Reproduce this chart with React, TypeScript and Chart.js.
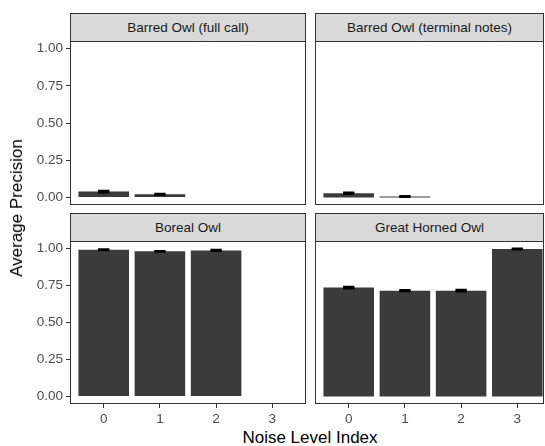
import React, { useEffect, useRef } from "react";
import { Chart, registerables } from "chart.js";

Chart.register(...registerables);

const levels = [0, 1, 2, 3];
const yTicks = [0, 0.25, 0.5, 0.75, 1];
const panelTitles = [
  "Barred Owl (full call)",
  "Barred Owl (terminal notes)",
  "Boreal Owl",
  "Great Horned Owl",
];
const fullCallAP: (number | null)[] = [0.04, 0.022, null, null];
const fullCallErr: (number | null)[] = [0.006, 0.004, null, null];
const terminalAP: (number | null)[] = [0.029, 0.007, null, null];
const terminalErr: (number | null)[] = [0.005, 0.004, null, null];
const borealAP: (number | null)[] = [0.993, 0.982, 0.988, null];
const borealErr: (number | null)[] = [0.004, 0.003, 0.004, null];
const ghoAP: (number | null)[] = [0.737, 0.716, 0.716, 0.998];
const ghoErr: (number | null)[] = [0.006, 0.004, 0.006, 0.003];

const FONT = "'Liberation Sans', Arial, Helvetica, sans-serif";
const BAR = "#3b3b3b";
const LINE = "#333333";
const TICK_SIZE = 13.5;

type PanelProps = {
  values: (number | null)[];
  errs: (number | null)[];
  showX: boolean;
  showY: boolean;
  xMax: number;
  left: number;
  top: number;
  width: number;
  height: number;
};

const borderPlugin = {
  id: "panelBorder",
  afterDraw(chart: any) {
    const { ctx, chartArea } = chart;
    ctx.save();
    ctx.strokeStyle = LINE;
    ctx.lineWidth = 1;
    ctx.strokeRect(
      chartArea.left + 0.5,
      chartArea.top + 0.5,
      chartArea.right - chartArea.left - 1,
      chartArea.bottom - chartArea.top - 1
    );
    ctx.restore();
  },
};

function makeErrPlugin(values: (number | null)[], errs: (number | null)[]) {
  return {
    id: "errBars",
    afterDatasetsDraw(chart: any) {
      const { ctx } = chart;
      const xs = chart.scales.x;
      const ys = chart.scales.y;
      const unit = xs.getPixelForValue(1) - xs.getPixelForValue(0);
      ctx.save();
      ctx.strokeStyle = "#000";
      ctx.fillStyle = "#000";
      ctx.lineWidth = 2;
      levels.forEach((lv, i) => {
        const v = values[i];
        const e = errs[i];
        if (v == null || e == null) return;
        const cx = xs.getPixelForValue(lv);
        const hw = unit * 0.1;
        const yHi = ys.getPixelForValue(v + e);
        const yLo = ys.getPixelForValue(v - e);
        ctx.beginPath();
        ctx.moveTo(cx - hw, yHi);
        ctx.lineTo(cx + hw, yHi);
        ctx.moveTo(cx - hw, yLo);
        ctx.lineTo(cx + hw, yLo);
        ctx.moveTo(cx, yHi);
        ctx.lineTo(cx, yLo);
        ctx.stroke();
        ctx.fillRect(cx - hw, yHi, hw * 2, yLo - yHi);
      });
      ctx.restore();
    },
  };
}

function Panel(p: PanelProps) {
  const ref = useRef<HTMLCanvasElement>(null);
  useEffect(() => {
    if (!ref.current) return;
    const data = levels
      .map((lv, i) => ({ x: lv, y: p.values[i] }))
      .filter((d) => d.y != null);
    const chart = new Chart(ref.current, {
      type: "bar",
      data: {
        datasets: [
          {
            data: data as any,
            backgroundColor: BAR,
            borderWidth: 0,
            barPercentage: 0.9,
            categoryPercentage: 1,
          },
        ],
      },
      options: {
        animation: false,
        responsive: false,
        maintainAspectRatio: false,
        layout: { padding: 0 },
        plugins: {
          legend: { display: false },
          tooltip: { enabled: false },
        },
        scales: {
          x: {
            type: "linear",
            min: -0.6,
            max: p.xMax,
            offset: false,
            display: p.showX,
            afterBuildTicks: (s: any) => {
              s.ticks = levels.map((v) => ({ value: v }));
            },
            afterFit: (s: any) => {
              if (p.showX) s.height = 22;
              s.paddingLeft = 0;
              s.paddingRight = 0;
            },
            ticks: {
              color: "#4d4d4d",
              font: { size: TICK_SIZE, family: FONT },
              padding: 3,
              autoSkip: false,
              maxRotation: 0,
              callback: (v: any) => String(v),
            },
            grid: {
              display: true,
              offset: false,
              drawOnChartArea: false,
              drawTicks: true,
              tickLength: 4,
              tickColor: LINE,
              tickWidth: 1,
            },
            border: { display: false },
          },
          y: {
            type: "linear",
            min: -0.05,
            max: 1.052,
            display: p.showY,
            afterBuildTicks: (s: any) => {
              s.ticks = yTicks.map((v) => ({ value: v }));
            },
            afterFit: (s: any) => {
              if (p.showY) s.width = 70;
              s.paddingTop = 0;
              s.paddingBottom = 0;
            },
            ticks: {
              color: "#4d4d4d",
              font: { size: TICK_SIZE, family: FONT },
              padding: 3,
              callback: (v: any) => Number(v).toFixed(2),
            },
            grid: {
              display: true,
              drawOnChartArea: false,
              drawTicks: true,
              tickLength: 4,
              tickColor: LINE,
              tickWidth: 1,
            },
            border: { display: false },
          },
        },
      },
      plugins: [borderPlugin, makeErrPlugin(p.values, p.errs)],
    });
    return () => chart.destroy();
  }, []);
  return (
    <canvas
      ref={ref}
      width={p.width}
      height={p.height}
      style={{
        position: "absolute",
        left: p.left,
        top: p.top,
        width: p.width,
        height: p.height,
      }}
    />
  );
}

function Strip({ text, left, top, width }: { text: string; left: number; top: number; width: number }) {
  return (
    <div
      style={{
        position: "absolute",
        left,
        top,
        width,
        height: 29,
        boxSizing: "border-box",
        border: `1px solid ${LINE}`,
        background: "#d9d9d9",
        color: "#1a1a1a",
        fontSize: 13.5,
        fontFamily: FONT,
        display: "flex",
        alignItems: "center",
        justifyContent: "center",
        whiteSpace: "nowrap",
      }}
    >
      {text}
    </div>
  );
}

export default function App() {
  return (
    <div
      style={{
        position: "fixed",
        left: 0,
        top: 0,
        width: 545,
        height: 446,
        overflow: "hidden",
        background: "#fff",
        fontFamily: FONT,
      }}
    >
      <Strip text={panelTitles[0]} left={70} top={13} width={236} />
      <Strip text={panelTitles[1]} left={315} top={13} width={229} />
      <Strip text={panelTitles[2]} left={70} top={213} width={236} />
      <Strip text={panelTitles[3]} left={315} top={213} width={229} />
      <Panel values={fullCallAP} errs={fullCallErr} showX={false} showY={true} xMax={3.6} left={0} top={41} width={306} height={164} />
      <Panel values={terminalAP} errs={terminalErr} showX={false} showY={false} xMax={3.475} left={315} top={41} width={229} height={164} />
      <Panel values={borealAP} errs={borealErr} showX={true} showY={true} xMax={3.6} left={0} top={241} width={306} height={185} />
      <Panel values={ghoAP} errs={ghoErr} showX={true} showY={false} xMax={3.475} left={315} top={241} width={229} height={185} />
      <div
        style={{
          position: "absolute",
          left: 17,
          top: 208,
          transform: "translate(-50%, -50%) rotate(-90deg)",
          whiteSpace: "nowrap",
          fontSize: 17,
          lineHeight: "20px",
          color: "#000",
        }}
      >
        Average Precision
      </div>
      <div
        style={{
          position: "absolute",
          left: 310,
          top: 428,
          transform: "translateX(-50%)",
          whiteSpace: "nowrap",
          fontSize: 17,
          lineHeight: "20px",
          color: "#000",
        }}
      >
        Noise Level Index
      </div>
    </div>
  );
}
